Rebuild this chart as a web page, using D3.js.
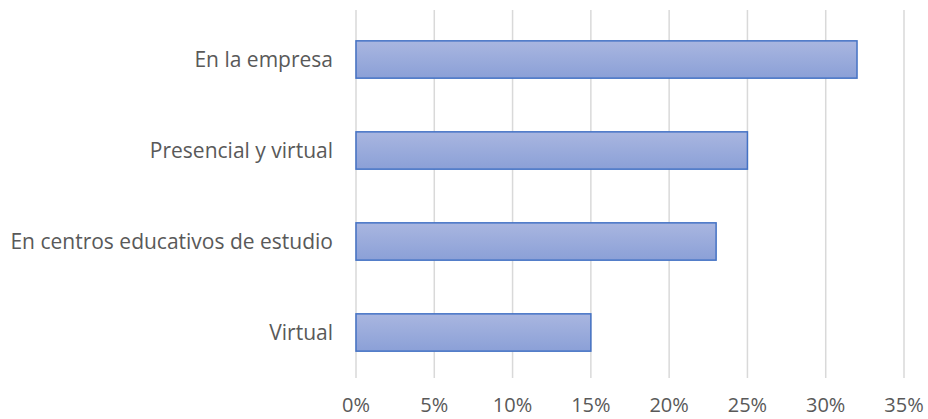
<!DOCTYPE html>
<html>
<head>
<meta charset="utf-8">
<script src="https://cdn.jsdelivr.net/npm/d3@7"></script>
<style>
  body { margin: 0; background: #fff; }
  text { font-family: "Open Sans", Lato, sans-serif; fill: #595959; }
</style>
</head>
<body>
<div id="vis"></div>
<script>
const categories = ['En la empresa', 'Presencial y virtual', 'En centros educativos de estudio', 'Virtual']
const values = [0.32, 0.25, 0.23, 0.15]
const tickValues = [0, 0.05, 0.10, 0.15, 0.20, 0.25, 0.30, 0.35]

;(function() {
  const svg_width = 928,
        svg_height = 419,
        margin = { top: 14, right: 24, bottom: 41, left: 356 },
        svg = d3.select('#vis').append('svg')

  svg.attr('width', svg_width).attr('height', svg_height)

  const x = d3.scaleLinear()
    .domain([0, 0.35])
    .range([margin.left, 904])

  const y = d3.scaleBand()
    .domain(categories)
    .range([margin.top, svg_height - margin.bottom])
    .paddingInner(0.59)
    .paddingOuter(0.295)

  // gradient for bars
  const grad = svg.append('defs').append('linearGradient')
    .attr('id', 'barGrad')
    .attr('x1', 0).attr('y1', 0).attr('x2', 0).attr('y2', 1)
  grad.append('stop').attr('offset', '0%').attr('stop-color', '#a9b6e0')
  grad.append('stop').attr('offset', '100%').attr('stop-color', '#8ba0d7')

  // gridlines
  svg.append('g').attr('class', 'grid')
    .selectAll('line')
    .data(tickValues)
    .join('line')
    .attr('x1', d => x(d)).attr('x2', d => x(d))
    .attr('y1', margin.top - 4)
    .attr('y2', svg_height - margin.bottom)
    .attr('stroke', '#d9d9d9')
    .attr('stroke-width', 1.5)

  // bars
  svg.append('g').attr('class', 'bars')
    .selectAll('rect')
    .data(values)
    .join('rect')
    .attr('x', x(0))
    .attr('y', (d, i) => y(categories[i]))
    .attr('width', d => x(d) - x(0))
    .attr('height', y.bandwidth())
    .attr('fill', 'url(#barGrad)')
    .attr('stroke', '#4472c4')
    .attr('stroke-width', 1.5)

  // category labels
  svg.append('g').attr('class', 'y-labels')
    .selectAll('text')
    .data(categories)
    .join('text')
    .attr('x', margin.left - 23)
    .attr('y', d => y(d) + y.bandwidth() / 2)
    .attr('dy', '0.35em')
    .attr('text-anchor', 'end')
    .attr('font-size', 21)
    .text(d => d)

  // x tick labels
  const fmt = d3.format('.0%')
  svg.append('g').attr('class', 'x-labels')
    .selectAll('text')
    .data(tickValues)
    .join('text')
    .attr('x', d => x(d))
    .attr('y', 405)
    .attr('dy', '0.35em')
    .attr('text-anchor', 'middle')
    .attr('font-size', 20)
    .text(d => fmt(d))
}())
</script>
</body>
</html>
